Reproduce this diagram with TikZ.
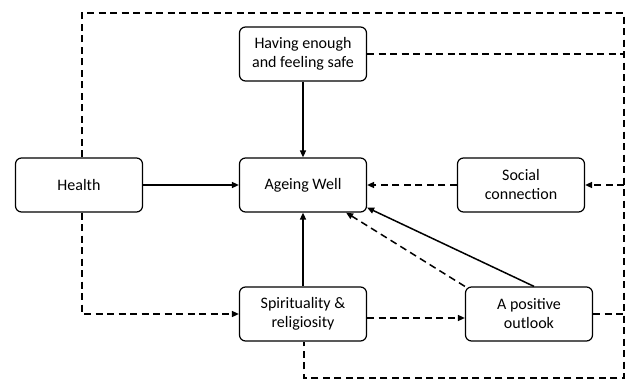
\documentclass[tikz,border=0pt]{standalone}
\usepackage{fontspec}
\setmainfont{Carlito}
\usetikzlibrary{arrows.meta}

\begin{document}
\begin{tikzpicture}[x=1pt,y=-1pt,
  box/.style={draw,rounded corners=6pt,line width=1.2pt,minimum width=127pt,minimum height=54pt,align=center,font=\fontsize{16}{19}\selectfont},
  tip/.style={-{Triangle[length=7pt,width=6pt]}},
  solidlink/.style={line width=1.5pt},
  dashlink/.style={line width=1.5pt,dash pattern=on 7pt off 4.5pt}]
\useasboundingbox (0,0) rectangle (630,380);
\node[box] at (79,185) (health) {Health};
\node[box] at (303,54) (having) {Having enough\\and feeling safe};
\node[box] at (303,185) (ageing) {Ageing Well};
\node[box] at (521,185) (social) {Social\\connection};
\node[box] at (303,314) (spirit) {Spirituality \&\\religiosity};
\node[box] at (529,314) (outlook) {A positive\\outlook};
\coordinate (tl) at (82,13);
\coordinate (tr) at (624,13);
\coordinate (br) at (624,378);
\coordinate (bl) at (304,378);
\coordinate (rs) at (social.east -| tr);
% solid paths
\draw[solidlink,tip] (health) -- (ageing);
\draw[solidlink,tip] (having) -- (ageing);
\draw[solidlink,tip] (spirit) -- (ageing);
\draw[solidlink,tip] ([xshift=5pt]outlook.north) -- ([yshift=5pt]ageing.south east);
% dashed paths
\draw[dashlink,tip] (outlook.north west) -- ([xshift=-21pt]ageing.south east);
\draw[dashlink,tip] (social) -- (ageing);
\draw[dashlink,tip] (rs) -- (social.east);
\draw[dashlink] (having.east) -- (having.east -| tr);
\draw[dashlink] (outlook.east) -- (outlook.east -| tr);
\draw[dashlink] (tl |- health.north) -- (tl) -- (tr) -- (br) -- (bl) -- (bl |- spirit.south);
\draw[dashlink,tip] (tl |- health.south) |- (spirit.west);
\draw[dashlink,tip] ([yshift=-4pt]spirit.east) -- ([yshift=-4pt]outlook.west);
\end{tikzpicture}
\end{document}
